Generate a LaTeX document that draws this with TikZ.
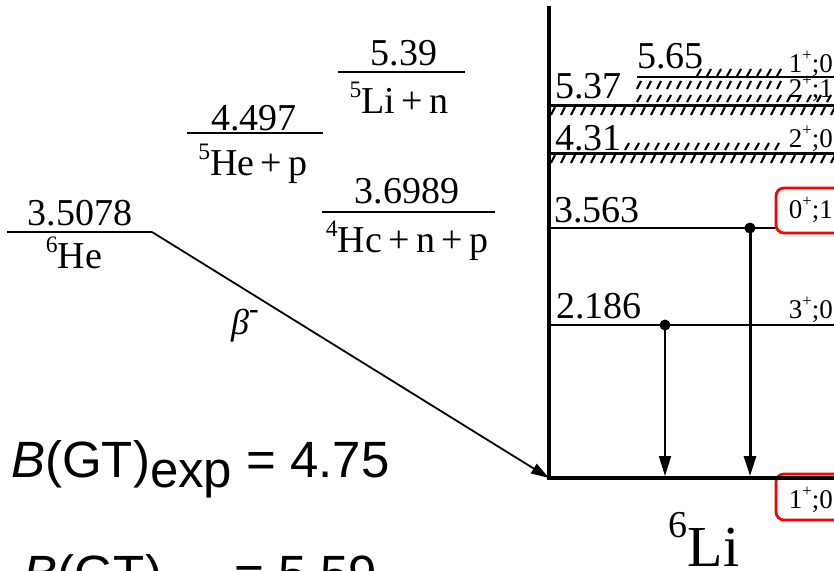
\documentclass[tikz,border=0pt]{standalone}
\usepackage{fontspec}
\setmainfont{Liberation Serif}
\newfontfamily\arialf{Liberation Sans}
\usetikzlibrary{arrows.meta}
\newcommand\supr[1]{\raisebox{0.42em}{\scalebox{0.62}{#1}}}
\begin{document}
\begin{tikzpicture}[x=1pt,y=-1pt,
  lvl/.style={line width=2.2pt},
  gslvl/.style={line width=3.6pt},
  hatch/.style={line width=2.1pt},
  val/.style={font=\fontsize{38}{40}\selectfont, inner sep=0pt, anchor=base},
  vall/.style={font=\fontsize{38}{40}\selectfont, inner sep=0pt, anchor=base west},
  spin/.style={font=\fontsize{27}{29}\selectfont, inner sep=0pt, anchor=base east},
  redbox/.style={draw=red, fill=white, line width=2.8pt, rounded corners=8pt},
  dotn/.style={circle, fill=black, inner sep=0pt, minimum size=11pt},
  bgt/.style={font=\arialf\fontsize{51}{55}\selectfont, inner sep=0pt, anchor=base west},
  gam/.style={-{Triangle[length=20pt,width=12pt]}},
]
\useasboundingbox (0,0) rectangle (834,570);
\clip (0,0) rectangle (834,570);

% ---- left side levels
\coordinate (he6L) at (7,232);   \coordinate (he6R) at (152,232);
\coordinate (hepL) at (187,133); \coordinate (hepR) at (323,133);
\coordinate (linL) at (338,72);  \coordinate (linR) at (465,72);
\coordinate (henpL) at (322,212);\coordinate (henpR) at (495,212);
\draw[lvl] (he6L) -- (he6R);
\draw[lvl] (hepL) -- (hepR);
\draw[lvl] (linL) -- (linR);
\draw[lvl] (henpL) -- (henpR);

\node[val] (t3507) at (80,225) {3.5078};
\node[val] (the6) at (74,268) {\supr{6}He};
\node[val] (t4497) at (254,130) {4.497};
\node[val] (the5p) at (253,175) {\supr{5}He\,+\,p};
\node[val] (t539) at (404,65) {5.39};
\node[val] (tli5n) at (399,113) {\supr{5}Li\,+\,n};
\node[val] (t36989) at (407,203) {3.6989};
\node[val] (the4np) at (407,252) {\supr{4}Hc\,+\,n\,+\,p};

% ---- 6Li scheme
\coordinate (axT) at (549,6);   \coordinate (axB) at (549,480);
\coordinate (gsL) at (549,478); \coordinate (gsR) at (834,478);
\coordinate (l2L) at (549,325); \coordinate (l2R) at (834,325);
\coordinate (l3L) at (549,228); \coordinate (l3R) at (834,228);
\coordinate (l4L) at (549,153); \coordinate (l4R) at (834,153);
\coordinate (l5L) at (549,105); \coordinate (l5R) at (834,105);
\coordinate (l6L) at (637,77);  \coordinate (l6R) at (834,77);

\draw[lvl] (l2L) -- (l2R);
\draw[lvl] (l3L) -- (l3R);
\draw[lvl,line width=3pt] (l4L) -- (l4R);
\draw[lvl,line width=3pt] (l5L) -- (l5R);
\draw[lvl,line width=2.6pt] (l6L) -- (l6R);

% hatching of broad levels
\foreach \x in {697,707,...,783} \draw[hatch] (\x,76) -- ++(4,-7);
\foreach \x in {637,647,...,783} \draw[hatch] (\x,89) -- ++(4,-8);
\foreach \x in {637,647,...,834} \draw[hatch] (\x,102) -- ++(4,-7);
\foreach \x in {551,561,...,834} \draw[hatch] (\x,115) -- ++(4,-8);
\foreach \x in {625,635,...,783} \draw[hatch] (\x,150) -- ++(4,-7);
\foreach \x in {551,561,...,834} \draw[hatch] (\x,163) -- ++(4,-8);

\node[vall] (t565) at (637,68) {5.65};
\node[vall] (t537) at (555,98) {5.37};
\node[vall] (t431) at (555,150) {4.31};
\node[vall] (t3563) at (554,222) {3.563};
\node[vall] (t2186) at (556,318) {2.186};

% red boxes
\draw[redbox] (776,188) rectangle (850,233);
\draw[redbox] (776,474) rectangle (850,520);

\node[spin] (s1) at (833,72) {1\supr{+};0};
\node[spin] (s2) at (833,97) {2\supr{+};1};
\node[spin] (s3) at (833,147) {2\supr{+};0};
\node[spin] (s4) at (833,218) {0\supr{+};1};
\node[spin] (s5) at (833,318) {3\supr{+};0};
\node[spin] (s6) at (833,508) {1\supr{+};0};

\draw[gslvl] (axT) -- (axB);
\draw[gslvl] (gsL) -- (gsR);

% gamma transitions
\node[dotn] (d2) at (665,325) {};
\node[dotn] (d3) at (750,228) {};
\coordinate (g2) at (665,476);
\coordinate (g3) at (750,476);
\draw[gam,line width=1.8pt] (d2.center) -- (g2);
\draw[gam,line width=3pt] (d3.center) -- (g3);

\node[font=\fontsize{58}{60}\selectfont, inner sep=0pt, anchor=base] (li6) at (704,566) {\raisebox{0.5em}{\fontsize{38}{38}\selectfont 6}Li};

% beta decay
\draw[line width=1.8pt, -{Triangle[length=18pt,width=11pt]}] (he6R) -- (gsL);
\node[font=\fontsize{36}{38}\selectfont, inner sep=0pt] (beta) at (245,326) {\textit{β}\raisebox{0.45em}{\scalebox{0.8}{\textbf{-}}}};

% B(GT)
\node[bgt] (bgt1) at (11,477) {\textit{B}(GT)\raisebox{-10pt}{exp} = 4.75};
\node[bgt] (bgt2) at (23,591) {\textit{B}(GT)\hspace{58pt} = 5.59};
\end{tikzpicture}
\end{document}
